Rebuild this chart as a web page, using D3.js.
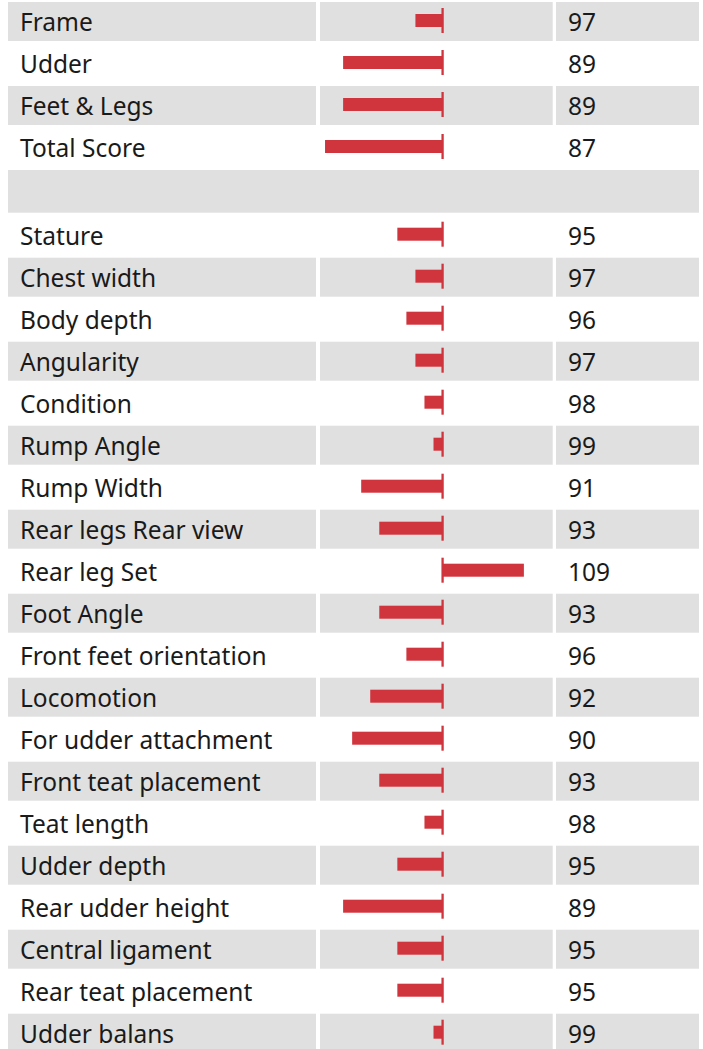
<!DOCTYPE html>
<html>
<head>
<meta charset="utf-8">
<script src="https://cdn.jsdelivr.net/npm/d3@7"></script>
<style>
    body { margin: 0; background: #fff; }
    svg { display: block; }
    text { font-family: "Noto Sans", Lato, sans-serif; fill: #1a1a1a; }
</style>
</head>
<body>
<div class="chart"></div>
<script>
// 数据
var traits = ['Frame', 'Udder', 'Feet & Legs', 'Total Score', '',
    'Stature', 'Chest width', 'Body depth', 'Angularity', 'Condition',
    'Rump Angle', 'Rump Width', 'Rear legs Rear view', 'Rear leg Set',
    'Foot Angle', 'Front feet orientation', 'Locomotion',
    'For udder attachment', 'Front teat placement', 'Teat length',
    'Udder depth', 'Rear udder height', 'Central ligament',
    'Rear teat placement', 'Udder balans'];
var scores = [97, 89, 89, 87, null,
    95, 97, 96, 97, 98,
    99, 91, 93, 109,
    93, 96, 92,
    90, 93, 98,
    95, 89, 95,
    95, 99];
var baseline = 100;

var svgWidth = 703,
    svgHeight = 1049;

var svg = d3.select('.chart')
    .append('svg')
    .attr('width', svgWidth)
    .attr('height', svgHeight);

var keys = d3.range(traits.length);
var blankIndex = traits.indexOf('');
var blankExtra = 3.7;

// 行比例尺
var yScale = d3.scaleBand()
    .domain(keys)
    .range([2, 2 + 42 * traits.length - 3])
    .paddingInner(3 / 42)
    .paddingOuter(0);

function rowTop(i) {
    return yScale(i) + (i > blankIndex ? blankExtra : 0);
}
function rowHeight(i) {
    return yScale.bandwidth() + (i == blankIndex ? blankExtra : 0);
}

// 条形比例尺
var xScale = d3.scaleLinear()
    .domain([86, 112])
    .range([316, 551]);

var cols = {
    label: { x: 8, w: 308 },
    bar: { x: 320, w: 232.7 },
    value: { x: 556, w: 143 }
};

var grey = '#e0e0e0',
    red = '#d0343c';

// 背景
var bg = svg.append('g').classed('row-bg', true);
keys.forEach(function(i) {
    if (i % 2 != 0) return;
    if (i == blankIndex) {
        bg.append('rect')
            .attr('x', cols.label.x)
            .attr('y', rowTop(i))
            .attr('width', cols.value.x + cols.value.w - cols.label.x)
            .attr('height', rowHeight(i))
            .attr('fill', grey);
        return;
    }
    ['label', 'bar', 'value'].forEach(function(c) {
        bg.append('rect')
            .attr('x', cols[c].x)
            .attr('y', rowTop(i))
            .attr('width', cols[c].w)
            .attr('height', rowHeight(i))
            .attr('fill', grey);
    });
});

var rows = keys.filter(function(i) { return scores[i] != null; });

// 标签
svg.append('g')
    .classed('labels', true)
    .selectAll('text')
    .data(rows)
    .enter()
    .append('text')
    .attr('x', 20)
    .attr('y', function(i) { return rowTop(i) + 29.3; })
    .style('font-size', '24.5px')
    .text(function(i) { return traits[i]; });

// 条形
svg.append('g')
    .classed('bars', true)
    .selectAll('rect')
    .data(rows)
    .enter()
    .append('rect')
    .attr('x', function(i) { return Math.min(xScale(scores[i]), xScale(baseline)); })
    .attr('y', function(i) { return rowTop(i) + 12; })
    .attr('width', function(i) { return Math.abs(xScale(scores[i]) - xScale(baseline)); })
    .attr('height', 13)
    .attr('fill', red);

// 基准线
svg.append('g')
    .classed('ticks', true)
    .selectAll('rect')
    .data(rows)
    .enter()
    .append('rect')
    .attr('x', xScale(baseline) - 1.1)
    .attr('y', function(i) { return rowTop(i) + 6; })
    .attr('width', 2.3)
    .attr('height', 25)
    .attr('fill', red);

// 数值
svg.append('g')
    .classed('values', true)
    .selectAll('text')
    .data(rows)
    .enter()
    .append('text')
    .attr('x', 568)
    .attr('y', function(i) { return rowTop(i) + 29.3; })
    .style('font-size', '24.5px')
    .text(function(i) { return scores[i]; });
</script>
</body>
</html>
